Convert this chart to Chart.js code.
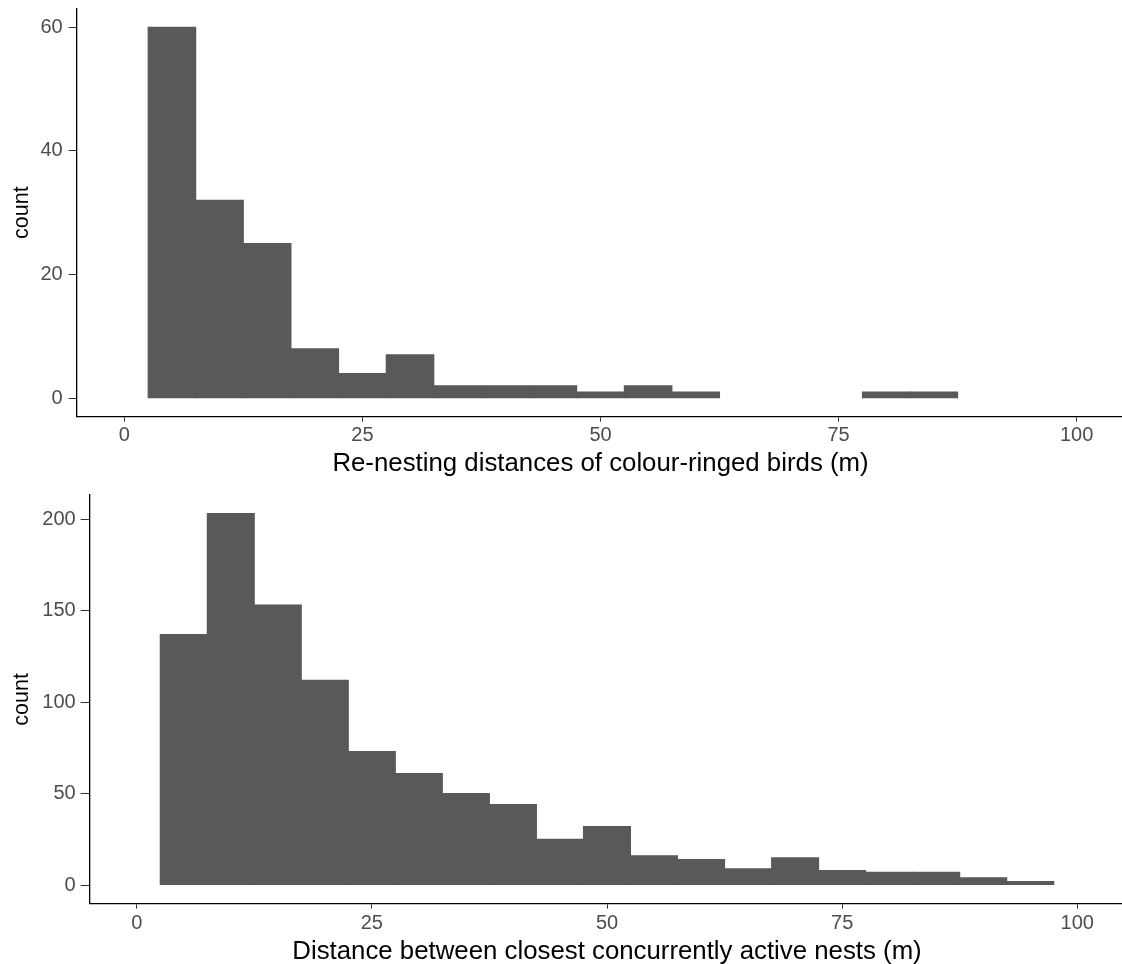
<!DOCTYPE html>
<html>
<head>
<meta charset="utf-8">
<script src="https://cdn.jsdelivr.net/npm/chart.js@4.4.1/dist/chart.umd.min.js"></script>
<style>
  html, body { margin: 0; padding: 0; background: #fff; overflow: hidden; }
  .panel { position: absolute; left: 0; width: 1130px; }
  #topPanel { top: 0; height: 480px; }
  #bottomPanel { top: 480px; height: 484px; }
</style>
</head>
<body>
<div class="panel" id="topPanel"><canvas id="renestChart"></canvas></div>
<div class="panel" id="bottomPanel"><canvas id="nestChart"></canvas></div>
<script>
// Histogram bins (5 m wide), given by their centres
const renestBinCentres = [5, 10, 15, 20, 25, 30, 35, 40, 45, 50, 55, 60, 65, 70, 75, 80, 85];
const renestCounts     = [60, 32, 25, 8, 4, 7, 2, 2, 2, 1, 2, 1, 0, 0, 0, 1, 1];

const nestBinCentres = [5, 10, 15, 20, 25, 30, 35, 40, 45, 50, 55, 60, 65, 70, 75, 80, 85, 90, 95];
const nestCounts     = [137, 203, 153, 112, 73, 61, 50, 44, 25, 32, 16, 14, 9, 15, 8, 7, 7, 4, 2];

const xTickValues   = [0, 25, 50, 75, 100];
const renestYTicks  = [0, 20, 40, 60];
const nestYTicks    = [0, 50, 100, 150, 200];
const xLimits       = [-5, 105];

const renestTitle = 'Re-nesting distances of colour-ringed birds (m)';
const nestTitle   = 'Distance between closest concurrently active nests (m)';

const barFill = '#595959';

Chart.defaults.font.family = '"Liberation Sans", Arial, Helvetica, sans-serif';
Chart.defaults.animation = false;

function histogram(canvasId, centres, counts, yTicks, xTitle, box) {
  const maxCount = Math.max(...counts);
  const pad = maxCount * 0.05;
  return new Chart(document.getElementById(canvasId), {
    type: 'bar',
    data: {
      datasets: [{
        data: centres.map((c, i) => ({ x: c, y: counts[i] })),
        // empty bins are left undrawn
        backgroundColor: ctx => (ctx.raw && ctx.raw.y === 0) ? 'rgba(0,0,0,0)' : barFill,
        borderWidth: 0,
        inflateAmount: 0.5,
        barPercentage: 1,
        categoryPercentage: 1
      }]
    },
    options: {
      responsive: true,
      maintainAspectRatio: false,
      layout: { padding: { left: 0, right: box.right, top: box.top, bottom: 0 } },
      plugins: { legend: { display: false }, tooltip: { enabled: false } },
      scales: {
        x: {
          type: 'linear',
          min: xLimits[0],
          max: xLimits[1],
          offset: false,
          afterBuildTicks: s => { s.ticks = xTickValues.map(v => ({ value: v })); },
          afterFit: s => { s.height = box.xHeight; s.paddingLeft = 0; s.paddingRight = 0; },
          grid: { display: true, offset: false, drawOnChartArea: false, drawTicks: true,
                  tickLength: 5, color: '#333333', lineWidth: 1 },
          border: { display: true, color: '#000000', width: 1.3 },
          ticks: { color: '#4d4d4d', font: { size: 20 }, padding: box.xTickPad,
                   maxRotation: 0, autoSkip: false },
          title: { display: true, text: xTitle, color: '#000000',
                   font: { size: 25.8, lineHeight: 1 }, padding: { top: 0, bottom: box.xTitlePad } }
        },
        y: {
          type: 'linear',
          min: -pad,
          max: maxCount + pad,
          afterBuildTicks: s => { s.ticks = yTicks.map(v => ({ value: v })); },
          afterFit: s => { s.width = box.yWidth; s.paddingTop = 0; s.paddingBottom = 0; },
          grid: { display: true, drawOnChartArea: false, drawTicks: true,
                  tickLength: box.yTickLen, color: '#333333', lineWidth: 1 },
          border: { display: true, color: '#000000', width: 1.3 },
          ticks: { color: '#4d4d4d', font: { size: 20 }, padding: box.yTickPad, autoSkip: false },
          title: { display: true, text: 'count', color: '#000000',
                   font: { size: 21.5, lineHeight: 1 }, padding: { top: 11, bottom: 0 } }
        }
      }
    }
  });
}

histogram('renestChart', renestBinCentres, renestCounts, renestYTicks, renestTitle,
  { top: 8.6, right: 5.7, xHeight: 63.3, yWidth: 76.7, xTickPad: 1.8, xTitlePad: 3, yTickLen: 8, yTickPad: 6 });

histogram('nestChart', nestBinCentres, nestCounts, nestYTicks, nestTitle,
  { top: 15, right: 5.7, xHeight: 60.3, yWidth: 89.7, xTickPad: 2.6, xTitlePad: -0.5, yTickLen: 9, yTickPad: 5 });
</script>
</body>
</html>
